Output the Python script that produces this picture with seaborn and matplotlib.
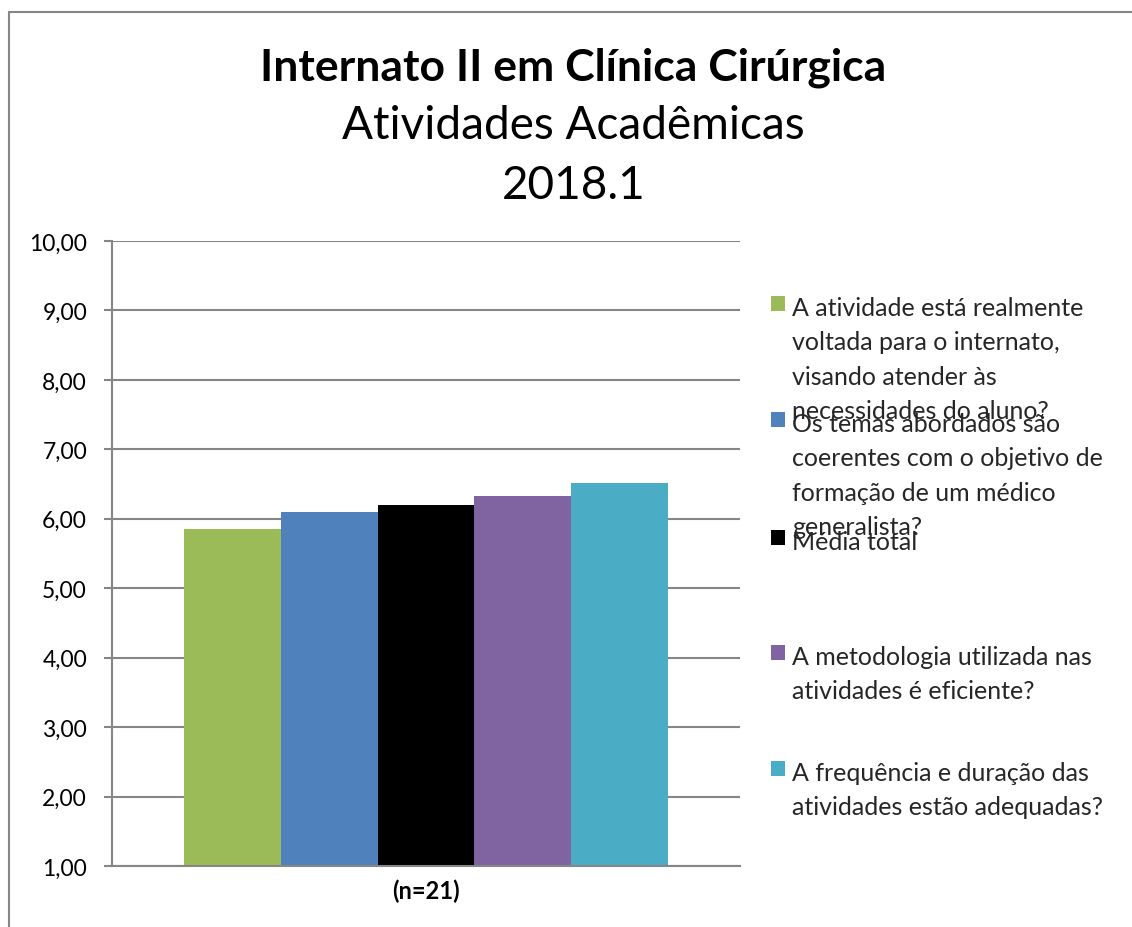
import matplotlib
matplotlib.use("Agg")
import matplotlib.pyplot as plt
import seaborn as sns
import pandas as pd
from matplotlib.patches import Rectangle
from matplotlib.legend import Legend

# ---- data ----
group_label = "(n=21)"
series_labels = [
    "A atividade está realmente\nvoltada para o internato,\nvisando atender às\nnecessidades do aluno?",
    "Os temas abordados são\ncoerentes com o objetivo de\nformação de um médico\ngeneralista?",
    "Média total",
    "A metodologia utilizada nas\natividades é eficiente?",
    "A frequência e duração das\natividades estão adequadas?",
]
series_values = [5.86, 6.10, 6.20, 6.33, 6.52]
series_colors = ["#9BBB59", "#4F81BD", "#000000", "#8064A2", "#4BACC6"]
y_ticks = [1, 2, 3, 4, 5, 6, 7, 8, 9, 10]
title_lines = ["Internato II em Clínica Cirúrgica", "Atividades Acadêmicas", "2018.1"]

df = pd.DataFrame({"grupo": [group_label] * len(series_values),
                   "serie": series_labels,
                   "valor": series_values})

sns.set_theme(style="white")
FONT = ["Lato", "DejaVu Sans"]
plt.rcParams["font.family"] = FONT

W, H = 1132, 928
fig = plt.figure(figsize=(W / 100, H / 100), dpi=100)
fig.patch.set_facecolor("white")

def fx(px):
    return px / W

def fy(py):
    return 1 - py / H

ax = fig.add_axes([fx(112), fy(867), fx(740) - fx(112), fy(242) - fy(867)])

sns.barplot(data=df, x="grupo", y="valor", hue="serie", hue_order=series_labels,
            palette=series_colors, width=0.771, gap=0, linewidth=0,
            saturation=1, ax=ax, legend=True)

ax.set_ylim(1, 10)
ax.set_xlim(-0.5, 0.5)
ax.set_yticks(y_ticks)
ax.set_yticklabels([f"{v:.2f}".replace(".", ",") for v in y_ticks], fontsize=16.5, color="black")
ax.set_xticks([0])
ax.set_xticklabels([group_label], fontsize=17, fontweight="bold", color="black")
ax.set_xlabel("")
ax.set_ylabel("")
ax.tick_params(axis="y", length=6, width=1.5, color="#868686", direction="out", pad=12, left=True)
ax.tick_params(axis="x", length=0, pad=9)
ax.grid(axis="y", color="#868686", linewidth=1.5)
ax.set_axisbelow(True)
for s in ["top", "right"]:
    ax.spines[s].set_visible(False)
for s in ["left", "bottom"]:
    ax.spines[s].set_color("#868686")
    ax.spines[s].set_linewidth(1.5)

handles, labels = ax.get_legend_handles_labels()
if ax.get_legend() is not None:
    ax.get_legend().remove()

# Legend entries, each placed separately (first line centers)
first_line_y = [308, 424, 542, 657, 773]
fs_leg = 18
for h, lab, yc in zip(handles, labels, first_line_y):
    leg = Legend(fig, [h], [lab], loc="upper left",
                 bbox_to_anchor=(fx(771), fy(yc - 11)), bbox_transform=fig.transFigure,
                 frameon=False, borderpad=0, borderaxespad=0,
                 handlelength=0.56, handleheight=0.56, handletextpad=0.28,
                 prop={"family": FONT, "size": fs_leg})
    for t in leg.get_texts():
        t.set_linespacing(1.6)
    for col in leg._legend_handle_box.get_children():
        for item in col.get_children():
            item.align = "top"
    fig.add_artist(leg)

# Titles
cx = 0.5 * (fx(262) + fx(885))
fig.text(cx, fy(68), title_lines[0], ha="center", va="center",
         fontsize=32, fontweight="bold", color="black")
fig.text(cx, fy(126), title_lines[1], ha="center", va="center",
         fontsize=33, color="black")
fig.text(cx, fy(186), title_lines[2], ha="center", va="center",
         fontsize=33, color="black")

# outer chart border (extends past the right and bottom edges)
fig.add_artist(Rectangle((fx(9), -0.1), 1.2, fy(13) + 0.1, transform=fig.transFigure,
                         fill=False, edgecolor="#868686", linewidth=1.5))

fig.savefig("out.png", dpi=100, facecolor="white")
